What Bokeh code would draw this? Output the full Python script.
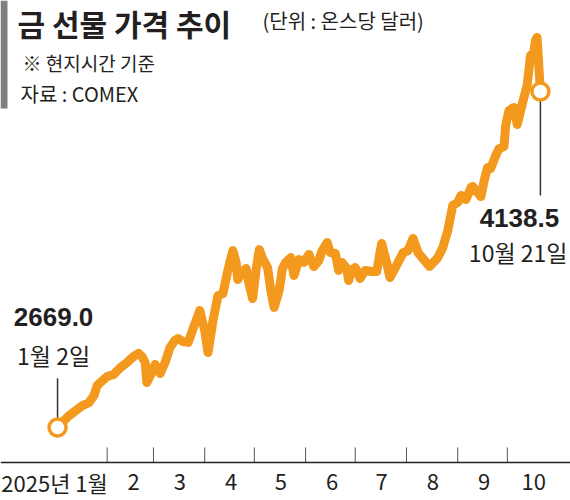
import pandas as pd
from bokeh.plotting import figure
from bokeh.models import Range1d, Label, BoxAnnotation, Span
from bokeh.core.properties import value
from bokeh.embed import file_html
from bokeh.resources import INLINE

# COMEX gold futures, USD per ounce
dates = [
    "2025-01-02", "2025-01-06", "2025-01-09", "2025-01-13", "2025-01-17", "2025-01-21",
    "2025-01-24", "2025-01-26", "2025-01-28", "2025-02-01", "2025-02-05", "2025-02-09",
    "2025-02-13", "2025-02-17", "2025-02-20", "2025-02-22", "2025-02-24", "2025-02-25",
    "2025-02-28", "2025-03-02", "2025-03-05", "2025-03-08", "2025-03-11", "2025-03-14",
    "2025-03-16", "2025-03-19", "2025-03-22", "2025-03-25", "2025-03-29", "2025-04-01",
    "2025-04-03", "2025-04-06", "2025-04-09", "2025-04-12", "2025-04-15", "2025-04-18",
    "2025-04-20", "2025-04-21", "2025-04-23", "2025-04-26", "2025-04-28", "2025-04-30",
    "2025-05-02", "2025-05-04", "2025-05-06", "2025-05-09", "2025-05-11", "2025-05-13",
    "2025-05-16", "2025-05-18", "2025-05-20", "2025-05-23", "2025-05-25", "2025-05-28",
    "2025-05-31", "2025-06-03", "2025-06-06", "2025-06-09", "2025-06-11", "2025-06-14",
    "2025-06-16", "2025-06-19", "2025-06-21", "2025-06-23", "2025-06-26", "2025-06-27",
    "2025-06-29", "2025-07-01", "2025-07-04", "2025-07-07", "2025-07-11", "2025-07-14",
    "2025-07-17", "2025-07-20", "2025-07-22", "2025-07-26", "2025-07-30", "2025-08-02",
    "2025-08-05", "2025-08-08", "2025-08-12", "2025-08-15", "2025-08-20", "2025-08-23",
    "2025-08-26", "2025-08-29", "2025-09-01", "2025-09-03", "2025-09-06", "2025-09-09",
    "2025-09-10", "2025-09-13", "2025-09-15", "2025-09-17", "2025-09-19", "2025-09-21",
    "2025-09-24", "2025-09-26", "2025-09-29", "2025-09-30", "2025-10-02", "2025-10-05",
    "2025-10-07", "2025-10-09", "2025-10-11", "2025-10-13", "2025-10-15", "2025-10-17",
    "2025-10-18", "2025-10-19", "2025-10-21",
]
prices = [
    2669.0, 2700, 2721, 2743, 2765, 2778,
    2809, 2853, 2866, 2892, 2901, 2931,
    2953, 2980, 2993, 2980, 2953, 2866,
    2910, 2945, 2905, 2953, 3019, 3050,
    3058, 3045, 3041, 3102, 3181, 3093,
    2997, 3137, 3246, 3255, 3356, 3443,
    3391, 3316, 3347, 3364, 3290, 3233,
    3356, 3447, 3408, 3369, 3268, 3194,
    3268, 3364, 3391, 3412, 3334, 3404,
    3391, 3426, 3373, 3399, 3443, 3478,
    3434, 3430, 3356, 3391, 3364, 3312,
    3356, 3369, 3321, 3356, 3351, 3351,
    3474, 3391, 3325, 3378, 3434, 3443,
    3496, 3434, 3399, 3373, 3412, 3456,
    3531, 3640, 3653, 3684, 3666, 3719,
    3723, 3697, 3679, 3749, 3806, 3802,
    3859, 3889, 3898, 3990, 4055, 4069,
    3994, 4055, 4112, 4165, 4296, 4309,
    4362, 4375, 4138.5,
]

month_starts = [
    "2025-01-01", "2025-02-01", "2025-03-01", "2025-04-01", "2025-05-01",
    "2025-06-01", "2025-07-01", "2025-08-01", "2025-09-01", "2025-10-01",
]
month_labels = ["2025년 1월", "2", "3", "4", "5", "6", "7", "8", "9", "10"]

ORANGE = "#f39a1e"
INK = "#231f20"
KR = "Noto Sans CJK KR"
NARROW = "Liberation Sans Narrow, Noto Sans CJK KR"

base = pd.Timestamp("2025-01-01")
day = [(pd.Timestamp(d) - base).days for d in dates]
starts = [(pd.Timestamp(d) - base).days for d in month_starts]

# baseline of the price axis and the strip below it for month names
AXIS_Y = 2516
TICK_LEN = 66
LABEL_Y = 2430

p = figure(
    width=570,
    height=500,
    x_range=Range1d(-33.5, 311.2),
    y_range=Range1d(2349.7, 4536.5),
    output_backend="svg",
    toolbar_location=None,
    x_axis_location=None,
    y_axis_location=None,
    min_border=0,
)
p.grid.visible = False
p.outline_line_color = None

# x axis: baseline, month-boundary ticks, month names centred in each month
p.add_layout(Span(location=AXIS_Y, dimension="width",
                  line_color="#222222", line_width=1.5))
p.segment(x0=starts[1:], y0=AXIS_Y, x1=starts[1:], y1=AXIS_Y + TICK_LEN,
          line_color="#555555", line_width=1)
p.text(x=[s + 16 for s in starts[1:]], y=LABEL_Y, text=month_labels[1:],
       text_font=value(NARROW), text_font_size="22px", text_color=INK,
       text_align="center", text_baseline="middle")
p.text(x=[-33], y=LABEL_Y, text=month_labels[:1],
       text_font=value(NARROW), text_font_size="22px", text_color=INK,
       text_align="left", text_baseline="middle")

# leader lines for first / last value
p.segment(
    x0=[day[0], day[-1]], y0=[prices[0], prices[-1]],
    x1=[day[0], day[-1]], y1=[prices[0] + 215, prices[-1] - 455],
    line_color="#333333", line_width=1.5,
)

p.line(day, prices, line_color=ORANGE, line_width=9,
       line_join="round", line_cap="round")

p.scatter([day[0], day[-1]], [prices[0], prices[-1]], size=17,
          fill_color="white", line_color=ORANGE, line_width=3.5)

first = pd.Timestamp(dates[0])
last = pd.Timestamp(dates[-1])

p.add_layout(Label(x=day[0], y=prices[0], x_offset=-4, y_offset=110,
                   text=f"{prices[0]:.1f}", text_font="Liberation Sans",
                   text_font_style="bold", text_font_size="26px",
                   text_color=INK, text_align="center", text_baseline="middle"))
p.add_layout(Label(x=day[0], y=prices[0], x_offset=-4, y_offset=72,
                   text=f"{first.month}월 {first.day}일", text_font=NARROW,
                   text_font_size="23px", text_color=INK,
                   text_align="center", text_baseline="middle"))
p.add_layout(Label(x=day[-1], y=prices[-1], x_offset=-21, y_offset=-126,
                   text=f"{prices[-1]:.1f}", text_font="Liberation Sans",
                   text_font_style="bold", text_font_size="26px",
                   text_color=INK, text_align="center", text_baseline="middle"))
p.add_layout(Label(x=day[-1], y=prices[-1], x_offset=27, y_offset=-160,
                   text=f"{last.month}월 {last.day}일", text_font=NARROW,
                   text_font_size="23px", text_color=INK,
                   text_align="right", text_baseline="middle"))

# heading block (screen units, measured up from the bottom of the canvas)
p.add_layout(BoxAnnotation(left=0, right=7, bottom=392, top=500,
                           left_units="screen", right_units="screen",
                           bottom_units="screen", top_units="screen",
                           fill_color="#808080", fill_alpha=1, line_color=None))
p.add_layout(Label(x=17, y=478, x_units="screen", y_units="screen",
                   text="금 선물 가격 추이", text_font=KR, text_font_style="bold",
                   text_font_size="30px", text_color=INK, text_baseline="middle"))
p.add_layout(Label(x=262, y=480, x_units="screen", y_units="screen",
                   text="(단위 : 온스당 달러)", text_font=KR,
                   text_font_size="20px", text_color=INK, text_baseline="middle"))
p.add_layout(Label(x=22, y=438, x_units="screen", y_units="screen",
                   text="※ 현지시간 기준", text_font=KR,
                   text_font_size="19px", text_color=INK, text_baseline="middle"))
p.add_layout(Label(x=20, y=407, x_units="screen", y_units="screen",
                   text="자료 : COMEX", text_font=KR,
                   text_font_size="20px", text_color=INK, text_baseline="middle"))

open("out.html", "w").write(file_html(p, INLINE))
